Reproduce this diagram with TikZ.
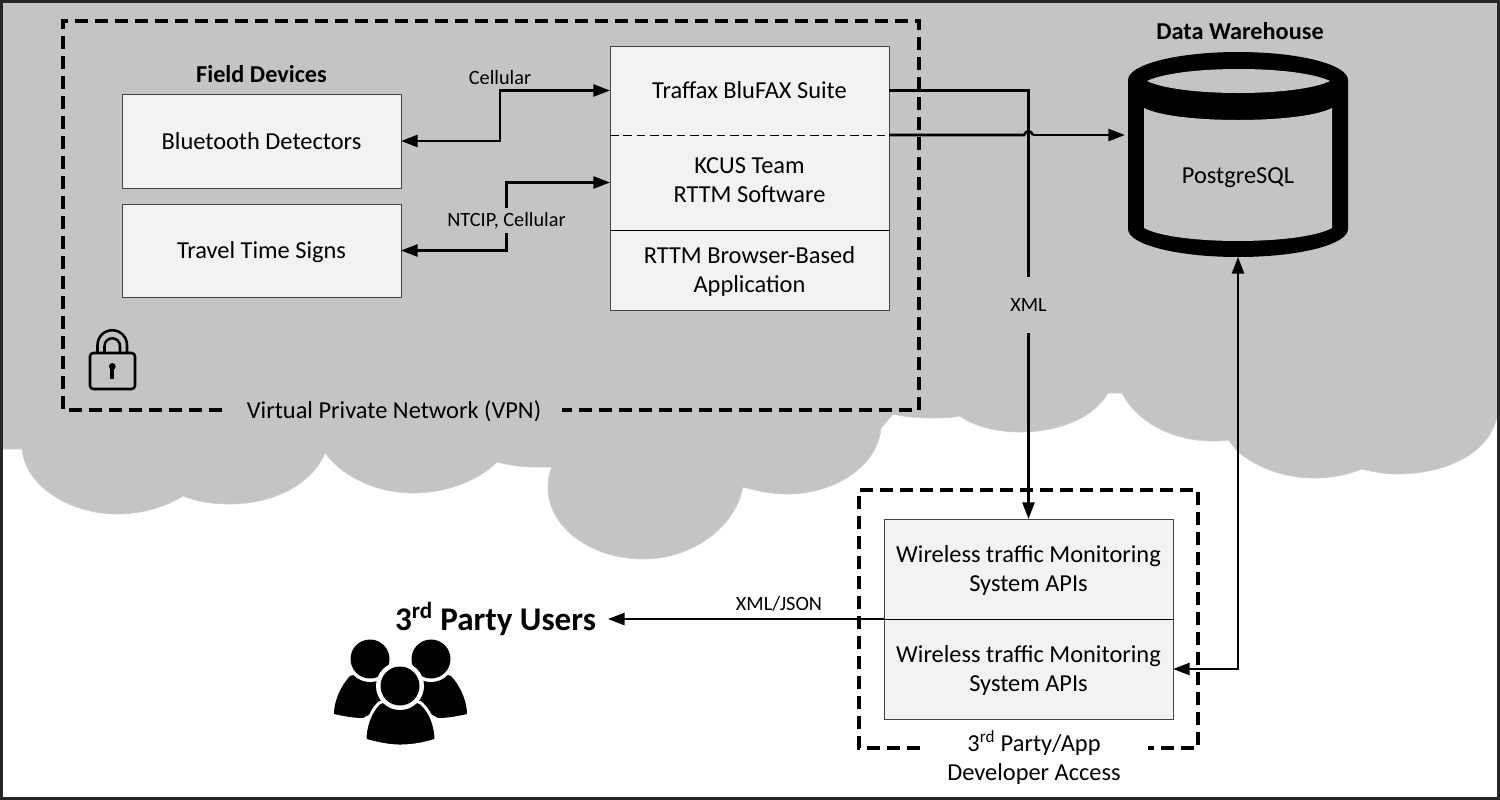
\documentclass[tikz,border=0pt]{standalone}
\usepackage{fontspec}
\setmainfont{Carlito}
\usetikzlibrary{arrows.meta}
\definecolor{cloudgray}{HTML}{C4C4C4}
\definecolor{boxfill}{HTML}{F2F2F2}
\definecolor{boxline}{HTML}{444444}
\definecolor{cloudedge}{HTML}{D8C8D0}
\newcommand{\shifted}[2]{\raisebox{#1}[\height][\depth]{\begin{tabular}{@{}c@{}}#2\end{tabular}}}
\tikzset{
  basefont/.style={font=\fontsize{18.3}{21.75}\selectfont},
  smallfont/.style={font=\fontsize{15.2}{18}\selectfont},
  cell/.style={fill=boxfill,inner sep=0pt,outer sep=0pt,align=center,basefont},
  outline/.style={draw=boxline,line width=0.75pt},
  devbox/.style={cell,outline,minimum width=209.25pt},
  lbl/.style={inner sep=0pt,outer sep=0pt,align=center,basefont},
  smalllbl/.style={lbl,smallfont},
  headlbl/.style={inner sep=0pt,outer sep=0pt,font=\fontsize{18.2}{22}\selectfont\bfseries},
  conn/.style={line width=1.9pt,draw=black},
  headtip/.style={-{Triangle[length=12.5pt,width=9pt]}},
  bothtip/.style={{Triangle[length=12.5pt,width=9pt]}-{Triangle[length=12.5pt,width=9pt]}},
  trustline/.style={line width=2.3pt,draw=black,dash pattern=on 9.75pt off 5.25pt},
}
\begin{document}
\begin{tikzpicture}[x=0.75pt,y=-0.75pt]
\useasboundingbox (0,0) rectangle (1500,800);
\fill[white] (0,0) rectangle (1500,800);
% cloud
\path[fill=cloudgray,draw=cloudedge,line width=0.5pt]
  (2,2) -- (2,449) -- (22,449)
  .. controls (26,488) and (72,514) .. (117,514) .. controls (142,514) and (165,507) .. (183,496)
  .. controls (198,502) and (214,504) .. (230,504) .. controls (274,504) and (312,484) .. (325,453)
  .. controls (344,478) and (378,493) .. (413,493) .. controls (446,493) and (478,481) .. (497,462)
  .. controls (509,465) and (521,467) .. (533,467) -- (552,467)
  .. controls (549,473) and (548,481) .. (548,488) .. controls (548,527) and (591,559) .. (643,559)
  .. controls (693,559) and (735,527) .. (743,487)
  .. controls (757,491) and (772,494) .. (787,494) .. controls (836,494) and (878,465) .. (881,428) -- (893,414)
  .. controls (905,417) and (918,418) .. (930,418) .. controls (940,418) and (950,418) .. (960,416)
  .. controls (975,427) and (998,432) .. (1020,432) .. controls (1062,432) and (1095,416) .. (1108,393) -- (1122,393)
  .. controls (1137,422) and (1172,441) .. (1213,441) .. controls (1219,441) and (1223,441) .. (1228,440) -- (1238,452)
  .. controls (1258,468) and (1285,478) .. (1313,478) .. controls (1331,478) and (1347,475) .. (1362,469)
  .. controls (1373,472) and (1385,474) .. (1397,474) .. controls (1450,474) and (1492,450) .. (1497,415)
  -- (1497,2) -- cycle;
% dashed trust boundaries
\draw[trustline] (222,410) -- (63,410) -- (63,21) -- (919,21) -- (919,410) -- (562,410);
\draw[trustline] (920,748) -- (859,748) -- (859,490) -- (1198,490) -- (1198,748) -- (1148,748);
% device boxes
\node[devbox,minimum height=70.5pt] (bt) at (261.5,141) {Bluetooth Detectors};
\node[devbox,minimum height=69.75pt,text depth=0pt] (tt) at (261.5,250.5) {Travel Time Signs};
\node[headlbl] (fd) at (261.5,74) {Field Devices};
% central stack
\node[cell,minimum width=209.25pt,minimum height=66.75pt] (top) at (749.5,90.5) {Traffax BluFAX Suite};
\node[cell,minimum width=209.25pt,minimum height=71.25pt] (mid) at (749.5,182.5) {\shifted{0pt}{KCUS Team\\RTTM Software}};
\node[cell,minimum width=209.25pt,minimum height=60pt] (bot) at (749.5,270) {\shifted{-1.5pt}{RTTM Browser-Based\\Application}};
\draw[outline] (top.north west) rectangle (bot.south east);
\draw[draw=black,line width=0.75pt,dash pattern=on 6.5pt off 3.5pt] (top.south west) -- (top.south east);
\draw[draw=black,line width=0.75pt] (mid.south west) -- (mid.south east);
% API stack
\node[cell,minimum width=216.75pt,minimum height=75pt] (apia) at (1028.5,569) {\shifted{-1.5pt}{Wireless traffic Monitoring\\System APIs}};
\node[cell,minimum width=216.75pt,minimum height=75pt] (apib) at (1028.5,669) {\shifted{-1.5pt}{Wireless traffic Monitoring\\System APIs}};
\draw[outline] (apia.north west) rectangle (apib.south east);
\draw[draw=black,line width=0.75pt] (apia.south west) -- (apia.south east);
% database
\node[minimum width=165pt,minimum height=153.75pt,inner sep=0pt,outer sep=0pt] (db) at (1238,154.5) {};
\fill[black] (1128,80) .. controls (1128,64.5) and (1177,52) .. (1238,52) .. controls (1299,52) and (1348,64.5) .. (1348,80)
  -- (1348,229) .. controls (1348,244.5) and (1299,257) .. (1238,257) .. controls (1177,257) and (1128,244.5) .. (1128,229) -- cycle;
\fill[cloudgray] (1147,81) .. controls (1180,65) and (1297,65) .. (1330,81) .. controls (1297,97) and (1180,97) .. (1147,81) -- cycle;
\fill[cloudgray] (1144,108) .. controls (1175,124) and (1301,124) .. (1332,108) -- (1332,228)
  .. controls (1301,245.3) and (1175,245.3) .. (1144,228) -- cycle;
\node[lbl] (pg) at (1238,177.5) {PostgreSQL};
\node[headlbl] (dw) at (1240,31) {Data Warehouse};
% labels
\node[lbl] (vpn) at (394,411) {Virtual Private Network (VPN)};
\node[smalllbl] (cell) at (500,78) {Cellular};
\node[smalllbl,minimum height=18.75pt] (ntcip) at (506.5,220.5) {NTCIP, Cellular};
\node[smalllbl,minimum height=42pt] (xml) at (1028.5,305) {XML};
\node[smalllbl] (xj) at (779,604) {XML/JSON};
\node[lbl] (dev) at (1034,757.5) {3\textsuperscript{rd} Party/App\\Developer Access};
\node[inner ysep=0pt,inner xsep=9pt,outer sep=0pt,font=\fontsize{24.8}{29}\selectfont\bfseries] (users) at (495.5,619) {3\textsuperscript{rd} Party Users};
% connectors
\coordinate (cella) at (500,90.5);
\draw[conn,bothtip] (bt.east) -| (cella) -- (top.west);
\draw[conn,headtip] (ntcip.north) |- (mid.west);
\draw[conn,headtip] (ntcip.south) |- (tt.east);
\draw[conn] (top.east) -| (xml.north);
\draw[conn,headtip] (xml.south) -- (apia.north);
\coordinate (jumpa) at (1024,135);
\coordinate (jumpb) at (1033,135);
\draw[conn] (top.south east) -- (jumpa) .. controls (1026,130) and (1031,130) .. (jumpb);
\draw[conn,headtip,shorten >=2.25pt] (jumpb) -- (db.west |- jumpb);
\draw[conn,bothtip] (db.south) |- (apib.east);
\draw[conn,headtip] (apia.south west) -- (users.east);
% padlock
\draw[black,line width=1.9pt,rounded corners=2.5pt] (90,353) rectangle (135,389);
\draw[black,line width=1.9pt] (97.5,353) -- (97.5,345) arc[start angle=180,end angle=360,radius=14.75] -- (127,353);
\draw[black,line width=1.9pt] (104.5,353) -- (104.5,346) arc[start angle=180,end angle=360,radius=7.75] -- (120,353);
\fill[black] (112.3,366.5) circle[radius=3.4];
\fill[black] (110.3,367) rectangle (114.3,379);
% people icon
\fill[black] (350,676) .. controls (339,688) and (334,703) .. (334,714) .. controls (343,716) and (353,718) .. (363,718) -- (395,700) -- (370,670) -- cycle;
\fill[black] (451,676) .. controls (462,688) and (467,703) .. (467,714) .. controls (458,716) and (448,718) .. (438,718) -- (406,700) -- (431,670) -- cycle;
\fill[white] (370,659) circle[radius=23];
\fill[white] (431,659) circle[radius=23];
\fill[black] (370,659) circle[radius=19.5];
\fill[black] (431,659) circle[radius=19.5];
\path[fill=black,draw=white,line width=2.2pt] (379,703) .. controls (369,713) and (365,728) .. (365,740)
  .. controls (378,744) and (390,746) .. (400,746) .. controls (412,746) and (424,744) .. (436,740)
  .. controls (436,728) and (432,713) .. (421,703) -- (400,695) -- cycle;
\fill[white] (400,686) circle[radius=24];
\fill[black] (400,686) circle[radius=19.5];
% outer frame
\draw[black!85,line width=2.2pt] (1.5,1.5) rectangle (1498.5,798.5);
\end{tikzpicture}
\end{document}
